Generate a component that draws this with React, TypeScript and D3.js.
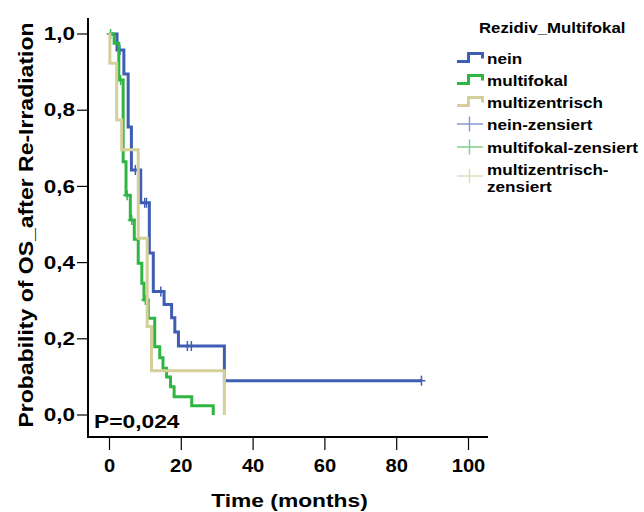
import React from "react";
import * as d3 from "d3";

// Kaplan-Meier estimates per recurrence pattern (time in months)
const neinTimes = [0, 2.1, 4.0, 5.2, 6.1, 8.7, 11.1, 12.2, 15.2, 17.3, 18.2, 19.2, 32.0];
const neinSurv = [1, 0.958, 0.895, 0.756, 0.643, 0.557, 0.425, 0.324, 0.29, 0.255, 0.218, 0.181, 0.09];
const neinCensored = [2.9, 7.2, 9.8, 10.3, 14.3, 21.7, 22.8, 86.9];

const multifokalTimes = [0, 1.3, 2.6, 3.8, 4.6, 5.8, 6.9, 8.0, 9.0, 9.6, 10.8, 12.6, 14.0, 14.9, 15.9, 17.0, 18.0, 22.9, 28.9];
const multifokalSurv = [1, 0.976, 0.879, 0.665, 0.577, 0.512, 0.461, 0.398, 0.346, 0.302, 0.254, 0.179, 0.15, 0.123, 0.1, 0.074, 0.048, 0.024, 0];
const multifokalCensored = [0.3, 3.1, 4.9, 6.2, 10.0];

const multizentrischTimes = [0, 0.1, 2.0, 3.4, 8.0, 10.5, 11.7, 32.0];
const multizentrischSurv = [1, 0.923, 0.774, 0.696, 0.464, 0.232, 0.116, 0];
const multizentrischCensored: number[] = [];

const xTicks = [0, 20, 40, 60, 80, 100];
const yTicks = [0, 0.2, 0.4, 0.6, 0.8, 1.0];

const legendTitle = "Rezidiv_Multifokal";
const pValueLabel = "P=0,024";

const series = [
  { name: "nein", times: neinTimes, surv: neinSurv, censored: neinCensored, end: 86.9, color: "#3f5db3", light: "#8a9ad3" },
  { name: "multifokal", times: multifokalTimes, surv: multifokalSurv, censored: multifokalCensored, end: 28.9, color: "#2fb642", light: "#7fd08a" },
  { name: "multizentrisch", times: multizentrischTimes, surv: multizentrischSurv, censored: multizentrischCensored, end: 32.0, color: "#d5cf9b", light: "#e2ddbb" },
];

const FONT = "'Liberation Sans', Arial, Helvetica, sans-serif";

function SText({ x, y, sx = 1, size, anchor = "start", weight = "bold", children }: any) {
  return (
    <text
      transform={`translate(${x},${y}) scale(${sx},1)`}
      textAnchor={anchor}
      dominantBaseline="central"
      fontFamily={FONT}
      fontWeight={weight}
      fontSize={size}
      fill="#000"
    >
      {children}
    </text>
  );
}

export default function App() {
  const x = d3.scaleLinear().domain([0, 100]).range([109.5, 468.5]);
  const y = d3.scaleLinear().domain([0, 1]).range([415, 34]);
  const axisLeft = 88;
  const axisBottom = 437;
  const axisTop = 18;
  const axisRight = 488;

  const line = d3
    .line<[number, number]>()
    .x((d) => x(d[0]))
    .y((d) => y(d[1]))
    .curve(d3.curveStepAfter);

  const fmt = (v: number) => v.toFixed(1).replace(".", ",");

  const legendRows = [
    { label: "nein", type: "step", s: series[0], cy: 58 },
    { label: "multifokal", type: "step", s: series[1], cy: 80 },
    { label: "multizentrisch", type: "step", s: series[2], cy: 102 },
    { label: "nein-zensiert", type: "cross", s: series[0], cy: 124 },
    { label: "multifokal-zensiert", type: "cross", s: series[1], cy: 147 },
    { label: "multizentrisch-", label2: "zensiert", type: "cross", s: series[2], cy: 169 },
  ];

  return (
    <svg
      width={644}
      height={512}
      style={{ position: "absolute", left: 0, top: 0, background: "#fff" }}
    >
      <rect x={0} y={0} width={644} height={512} fill="#fff" />

      {/* curves */}
      {series.map((s) => {
        const pts: [number, number][] = s.times.map((t, i) => [t, s.surv[i]] as [number, number]);
        const last = pts[pts.length - 1];
        if (s.end > last[0]) pts.push([s.end, last[1]]);
        const bis = d3.bisector((d: number) => d).right;
        return (
          <g key={s.name}>
            <path d={line(pts) || ""} fill="none" stroke={s.color} strokeWidth={3} />
            {s.censored.map((c, i) => {
              const idx = bis(s.times, c) - 1;
              const v = s.surv[Math.max(0, idx)];
              const cx = x(c);
              const cy = y(v);
              return (
                <g key={i} stroke={s.color} strokeWidth={1.5}>
                  <line x1={cx} x2={cx} y1={cy - 5} y2={cy + 5} />
                  <line x1={cx - 4} x2={cx + 4} y1={cy} y2={cy} />
                </g>
              );
            })}
          </g>
        );
      })}

      {/* axes frame */}
      <line x1={axisLeft} x2={axisLeft} y1={axisTop} y2={axisBottom + 1} stroke="#000" strokeWidth={2} />
      <line x1={axisLeft - 1} x2={axisRight} y1={axisBottom} y2={axisBottom} stroke="#000" strokeWidth={2} />

      {yTicks.map((v) => (
        <g key={v}>
          <line x1={axisLeft - 11} x2={axisLeft} y1={y(v)} y2={y(v)} stroke="#000" strokeWidth={1.2} />
          <SText x={75} y={y(v)} sx={1.25} size={18} anchor="end">
            {fmt(v)}
          </SText>
        </g>
      ))}
      {xTicks.map((v) => (
        <g key={v}>
          <line x1={x(v)} x2={x(v)} y1={axisBottom} y2={axisBottom + 13} stroke="#000" strokeWidth={1.2} />
          <SText x={x(v)} y={466} sx={1.12} size={18} anchor="middle">
            {v}
          </SText>
        </g>
      ))}

      <SText x={289.5} y={500} sx={1.2} size={19} anchor="middle">
        Time (months)
      </SText>
      <text
        transform="translate(26,225) rotate(-90) scale(1.15,1)"
        textAnchor="middle"
        dominantBaseline="central"
        fontFamily={FONT}
        fontWeight="bold"
        fontSize={20}
      >
        Probability of OS_after Re-Irradiation
      </text>

      <SText x={94} y={421} sx={1.2} size={19}>
        {pValueLabel}
      </SText>

      {/* legend */}
      <SText x={479} y={28} sx={1.12} size={15}>
        {legendTitle}
      </SText>
      {legendRows.map((r) => (
        <g key={r.label}>
          {r.type === "step" ? (
            <path
              d={`M457,${r.cy + 3.5}H468.5V${r.cy - 4.5}H482.5V${r.cy + 0.5}`}
              fill="none"
              stroke={r.s.color}
              strokeWidth={3}
            />
          ) : (
            <g stroke={r.s.light} strokeWidth={1.5}>
              <line x1={457} x2={483} y1={r.label2 ? r.cy + 7 : r.cy} y2={r.label2 ? r.cy + 7 : r.cy} />
              <line x1={469.5} x2={469.5} y1={(r.label2 ? r.cy + 7 : r.cy) - 7.5} y2={(r.label2 ? r.cy + 7 : r.cy) + 7.5} />
            </g>
          )}
          <SText x={487} y={r.cy} sx={1.14} size={15}>
            {r.label}
          </SText>
          {r.label2 && (
            <SText x={487} y={r.cy + 17} sx={1.14} size={15}>
              {r.label2}
            </SText>
          )}
        </g>
      ))}
    </svg>
  );
}
